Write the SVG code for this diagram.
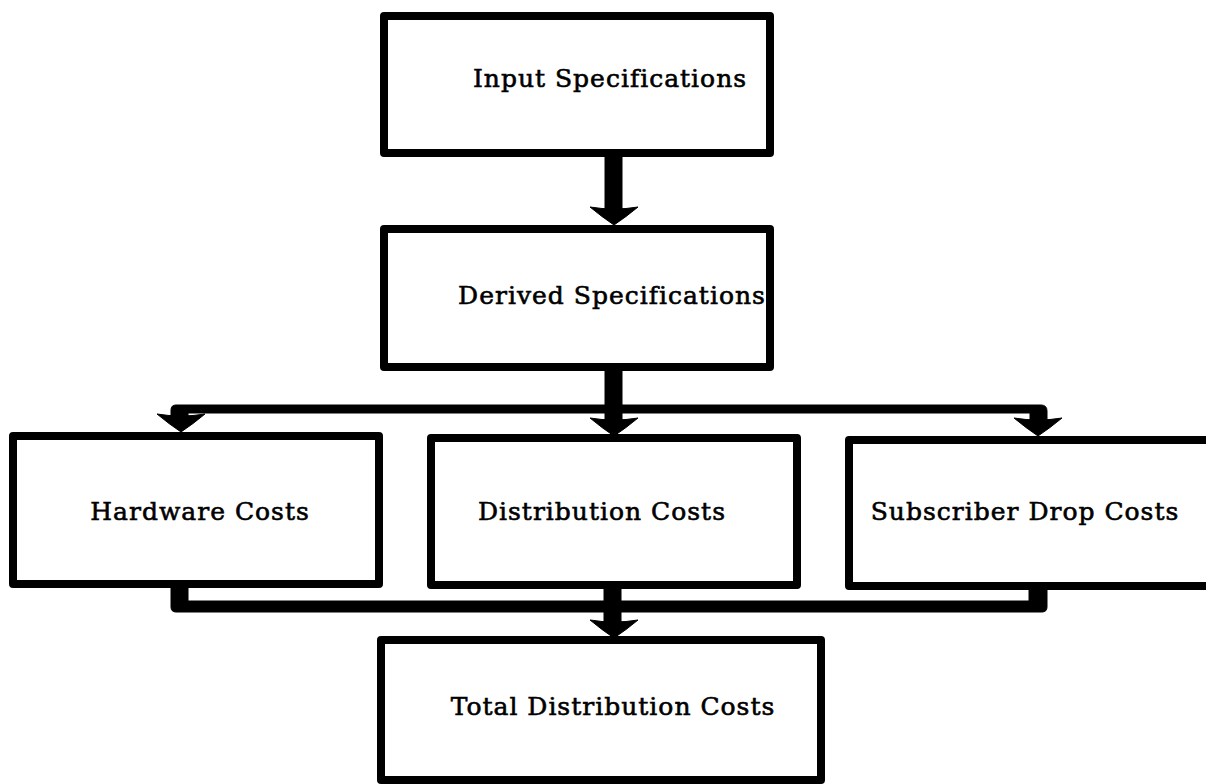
<svg xmlns="http://www.w3.org/2000/svg" width="1206" height="784" viewBox="0 0 1206 784">
  <style>
    .box { fill: #fff; stroke: #000; stroke-width: 8; stroke-linejoin: round; }
    .label { font-family: "DejaVu Serif", "Liberation Serif", serif; font-size: 25px; letter-spacing: 1px; fill: #000; stroke: #000; stroke-width: 0.6; text-anchor: middle; }
    .pipe { fill: #000; stroke: #000; stroke-width: 1; stroke-linejoin: round; }
  </style>
  <defs>
    <!-- bell-shaped arrowhead, tip at origin pointing down -->
    <path id="head" d="M-24,-18 Q0,-14 24,-18 Q12,-8 0,0 Q-12,-8 -24,-18 Z"/>
  </defs>
  <rect width="1206" height="784" fill="#fff"/>

  <g id="node-input">
    <rect class="box" x="384" y="16" width="386" height="137"/>
    <text class="label" x="610" y="87">Input Specifications</text>
  </g>

  <g id="node-derived">
    <rect class="box" x="384" y="229" width="386" height="138"/>
    <text class="label" x="612" y="304">Derived Specifications</text>
  </g>

  <g id="node-hardware">
    <rect class="box" x="13" y="436" width="366" height="148"/>
    <text class="label" x="200" y="520">Hardware Costs</text>
  </g>

  <g id="node-distribution">
    <rect class="box" x="431" y="438" width="366" height="147"/>
    <text class="label" x="602" y="520">Distribution Costs</text>
  </g>

  <g id="node-subscriber">
    <rect class="box" x="849" y="440" width="400" height="146"/>
    <text class="label" x="1025" y="520">Subscriber Drop Costs</text>
  </g>

  <g id="node-total">
    <rect class="box" x="381" y="640" width="440" height="140"/>
    <text class="label" x="613" y="715">Total Distribution Costs</text>
  </g>

  <g id="connectors">
    <!-- input to derived -->
    <rect class="pipe" x="605" y="154" width="17" height="56"/>
    <use class="pipe" href="#head" x="614" y="225"/>

    <!-- derived fan-out bus -->
    <rect class="pipe" x="605" y="368" width="17" height="52"/>
    <use class="pipe" href="#head" x="614" y="436"/>
    <path class="pipe" d="M176,405 L1041,405 Q1047,405 1047,411 L1047,420 L1030,420 L1030,413 L188,413 L188,420 L171,420 L171,410 Q171,405 176,405 Z"/>
    <use class="pipe" href="#head" x="181" y="432"/>
    <use class="pipe" href="#head" x="1038" y="436"/>

    <!-- cost roll-up bus -->
    <path class="pipe" d="M171,586 L188,586 L188,601 L1029,601 L1029,587 L1047,587 L1047,607 Q1047,612 1042,612 L176,612 Q171,612 171,607 Z"/>
    <rect class="pipe" x="604" y="586" width="17" height="42"/>
    <use class="pipe" href="#head" x="614" y="638"/>
  </g>
</svg>
